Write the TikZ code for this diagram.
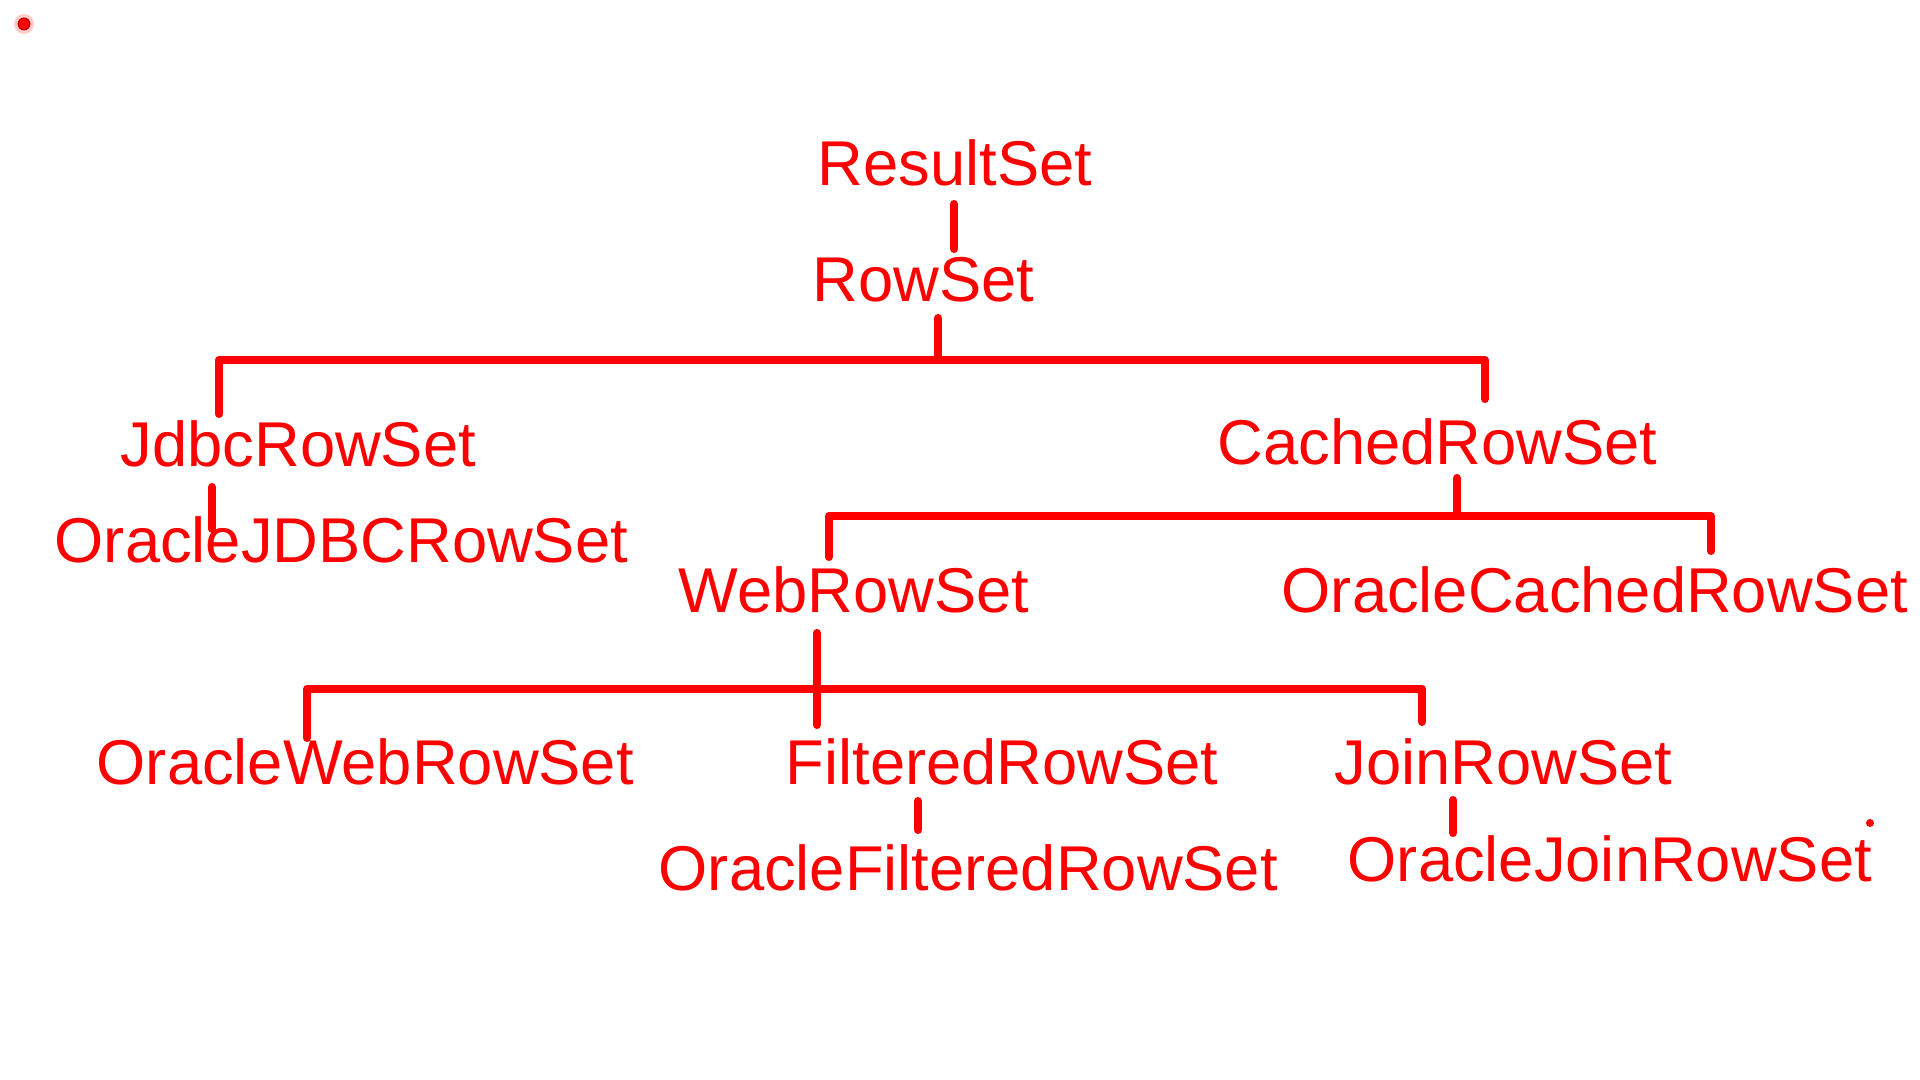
\documentclass[tikz,border=0pt]{standalone}
\usepackage{fontspec}
\setmainfont{Liberation Sans}
\usetikzlibrary{positioning}
\definecolor{penred}{RGB}{255,0,0}

\begin{document}
\begin{tikzpicture}[x=0.01cm, y=-0.01cm,
  cls/.style={anchor=base west, inner sep=0pt, text=penred,
              font=\fontsize{18}{18}\selectfont},
  link/.style={draw=penred, line width=2.3pt, line cap=round, line join=round}]
\fill[white] (0,0) rectangle (1920,1080);

\node[cls] (resultset) at (817,186) {ResultSet};
\node[cls] (rowset) at (812,302) {RowSet};
\node[cls] (jdbc) at (120,467) {JdbcRowSet};
\node[cls] (cached) at (1217,465) {CachedRowSet};
\node[cls] (orajdbc) at (54,563) {OracleJDBCRowSet};
\node[cls] (web) at (678,613) {WebRowSet};
\node[cls] (oracached) at (1281,613) {OracleCachedRowSet};
\node[cls] (oraweb) at (96,785) {OracleWebRowSet};
\node[cls] (filtered) at (785,785) {FilteredRowSet};
\node[cls] (join) at (1334,785) {JoinRowSet};
\node[cls] (orafiltered) at (658,891) {OracleFilteredRowSet};
\node[cls] (orajoin) at (1347,882) {OracleJoinRowSet};

\coordinate (resultset-out) at (954,204);
\coordinate (rowset-in) at (954,249);
\coordinate (rowset-out) at (938,318);
\coordinate (rowset-bus) at (938,360);
\coordinate (jdbc-in) at (219,414);
\coordinate (cached-in) at (1485,399);
\coordinate (jdbc-out) at (212,487);
\coordinate (orajdbc-in) at (212,529);
\coordinate (cached-out) at (1457,478);
\coordinate (cached-bus) at (1457,516);
\coordinate (web-in) at (829,557);
\coordinate (oracached-in) at (1711,551);
\coordinate (web-out) at (817,633);
\coordinate (web-bus) at (817,689);
\coordinate (filtered-in) at (817,725);
\coordinate (oraweb-in) at (307,738);
\coordinate (join-in) at (1422,722);
\coordinate (filtered-out) at (918,801);
\coordinate (orafiltered-in) at (918,830);
\coordinate (join-out) at (1453,800);
\coordinate (orajoin-in) at (1453,833);

\draw[link] (resultset-out) -- (rowset-in);
\draw[link] (rowset-out) -- (rowset-bus);
\draw[link] (jdbc-in) |- (rowset-bus) -| (cached-in);
\draw[link] (jdbc-out) -- (orajdbc-in);
\draw[link] (cached-out) -- (cached-bus);
\draw[link] (web-in) |- (cached-bus) -| (oracached-in);
\draw[link] (web-out) -- (filtered-in);
\draw[link] (oraweb-in) |- (web-bus) -| (join-in);
\draw[link] (filtered-out) -- (orafiltered-in);
\draw[link] (join-out) -- (orajoin-in);

\fill[penred!20] (24,24) circle (10);
\fill[penred!80!black] (24,24) circle (6.5);
\fill[penred] (24,24) circle (5);
\fill[penred] (1870,823) circle (4);
\end{tikzpicture}
\end{document}
